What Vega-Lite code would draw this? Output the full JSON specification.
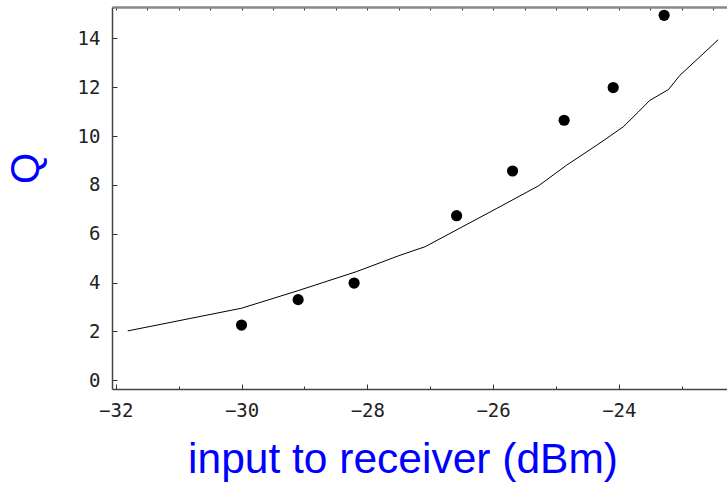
{
  "$schema": "https://vega.github.io/schema/vega-lite/v6.json",
  "width": 615,
  "height": 382,
  "autosize": "none",
  "padding": {"left": 112, "top": 7, "right": 0, "bottom": 95},
  "background": "white",
  "config": {"view": {"stroke": null}, "axis": {"grid": false}},
  "datasets": {
    "model": [
      {"x": -31.81, "q": 2.02},
      {"x": -30.0, "q": 2.95},
      {"x": -29.1, "q": 3.67},
      {"x": -28.17, "q": 4.45},
      {"x": -27.5, "q": 5.1},
      {"x": -27.08, "q": 5.47},
      {"x": -25.94, "q": 7.04},
      {"x": -25.28, "q": 7.96},
      {"x": -24.83, "q": 8.81},
      {"x": -24.35, "q": 9.63},
      {"x": -23.93, "q": 10.38},
      {"x": -23.69, "q": 10.99},
      {"x": -23.51, "q": 11.46},
      {"x": -23.21, "q": 11.91},
      {"x": -23.03, "q": 12.49},
      {"x": -22.74, "q": 13.18},
      {"x": -22.42, "q": 13.95}
    ],
    "measured": [
      {"x": -30.0, "q": 2.26},
      {"x": -29.1, "q": 3.3},
      {"x": -28.21, "q": 3.98},
      {"x": -26.58, "q": 6.74},
      {"x": -25.69, "q": 8.57},
      {"x": -24.87, "q": 10.65},
      {"x": -24.09, "q": 11.99},
      {"x": -23.28, "q": 14.95}
    ]
  },
  "resolve": {"axis": {"x": "independent"}},
  "layer": [
    {
      "data": {"name": "model"},
      "mark": {"type": "line", "color": "black", "strokeWidth": 1},
      "encoding": {
        "x": {
          "field": "x", "type": "quantitative",
          "scale": {"domain": [-32.06, -22.28], "nice": false, "zero": false},
          "axis": {
            "orient": "bottom",
            "values": [-32, -31.5, -31, -30.5, -30, -29.5, -29, -28.5, -28, -27.5, -27, -26.5, -26, -25.5, -25, -24.5, -24, -23.5, -23, -22.5],
            "format": "d",
            "labelExpr": "datum.value % 2 === 0 ? datum.label : ''",
            "tickSize": {"condition": {"test": "datum.value % 2 === 0", "value": -5}, "value": -3},
            "tickColor": "#333",
            "tickWidth": 1,
            "domainColor": "#444",
            "domainWidth": 1.5,
            "labelFont": "DejaVu Sans Mono",
            "labelFontSize": 19,
            "labelColor": "#222",
            "labelBaseline": "top",
            "labelPadding": 17,
            "labelFlush": false,
            "labelOverlap": false,
            "title": "input to receiver (dBm)",
            "titleFont": "Liberation Sans",
            "titleFontSize": 42.5,
            "titleFontWeight": "normal",
            "titleColor": "#0000ff",
            "titleX": 290.5,
            "titleY": 83,
            "titleAlign": "center",
            "titleBaseline": "alphabetic"
          }
        },
        "y": {
          "field": "q", "type": "quantitative",
          "scale": {"domain": [-0.36, 15.29], "nice": false, "zero": false},
          "axis": {
            "orient": "left",
            "values": [0, 0.5, 1, 1.5, 2, 2.5, 3, 3.5, 4, 4.5, 5, 5.5, 6, 6.5, 7, 7.5, 8, 8.5, 9, 9.5, 10, 10.5, 11, 11.5, 12, 12.5, 13, 13.5, 14, 14.5, 15],
            "format": "d",
            "labelExpr": "datum.value % 2 === 0 ? datum.label : ''",
            "tickSize": {"condition": {"test": "datum.value % 2 === 0", "value": -5}, "value": -3},
            "tickColor": "#333",
            "tickWidth": 1,
            "domainColor": "#444",
            "domainWidth": 1.5,
            "labelFont": "DejaVu Sans Mono",
            "labelFontSize": 19,
            "labelColor": "#222",
            "labelPadding": 17,
            "labelFlush": false,
            "labelOverlap": false,
            "title": "Q",
            "titleFont": "Liberation Sans",
            "titleFontSize": 40,
            "titleFontWeight": "normal",
            "titleColor": "#0000ff",
            "titleAngle": -90,
            "titleX": -74,
            "titleY": 161,
            "titleAlign": "center",
            "titleBaseline": "alphabetic"
          }
        }
      }
    },
    {
      "data": {"name": "measured"},
      "mark": {"type": "circle", "color": "black", "opacity": 1, "size": 125},
      "encoding": {
        "x": {
          "field": "x", "type": "quantitative",
          "scale": {"domain": [-32.06, -22.28], "nice": false, "zero": false},
          "axis": {
            "orient": "top",
            "values": [-32, -31.5, -31, -30.5, -30, -29.5, -29, -28.5, -28, -27.5, -27, -26.5, -26, -25.5, -25, -24.5, -24, -23.5, -23, -22.5],
            "labels": false,
            "tickSize": -3,
            "tickColor": "#333",
            "domainColor": "#888",
            "domainWidth": 2.5,
            "title": null
          }
        },
        "y": {
          "field": "q", "type": "quantitative",
          "scale": {"domain": [-0.36, 15.29], "nice": false, "zero": false},
          "axis": {"title": "Q"}
        }
      }
    }
  ]
}
